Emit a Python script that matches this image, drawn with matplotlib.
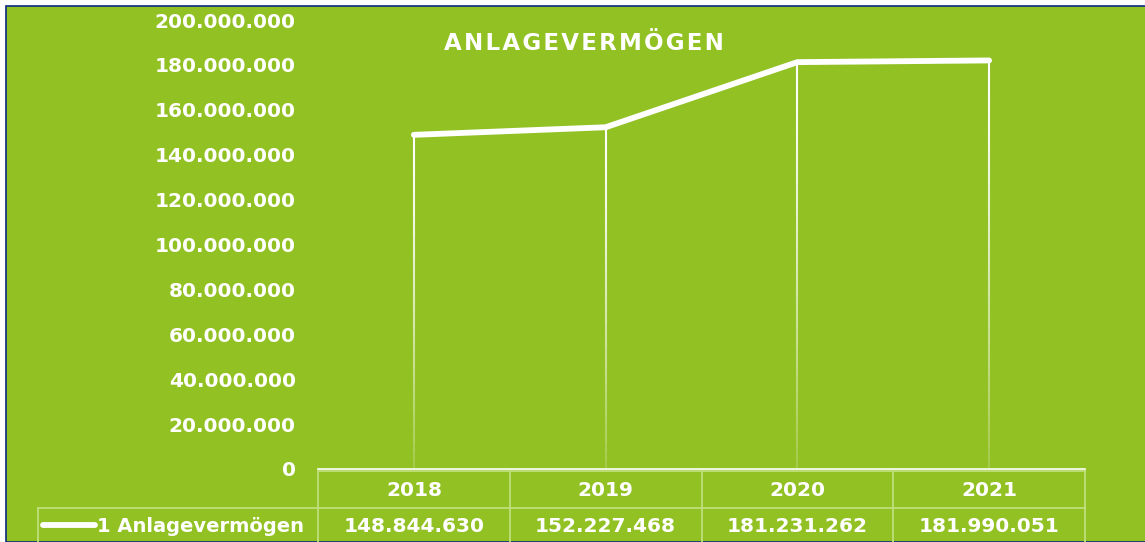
import numpy as np
import matplotlib
matplotlib.use('Agg')
import matplotlib.pyplot as plt
from matplotlib.patches import Rectangle
from matplotlib.collections import LineCollection

# Anlagevermögen per year
years = ['2018', '2019', '2020', '2021']
values = [148844630, 152227468, 181231262, 181990051]
series_name = '1 Anlagevermögen'
title = 'ANLAGEVERMÖGEN'
yticks = np.arange(0, 200000001, 20000000)

GREEN = '#92c124'
GRID = '#bfe07c'
W, H = 1145, 542


def fmt(v):
    return f'{v:,.0f}'.replace(',', '.')


def fx(px):
    return px / W


def fy(py):
    return 1 - py / H


plt.rcParams['font.family'] = ['DejaVu Sans']
fig = plt.figure(figsize=(W / 100, H / 100), dpi=100, facecolor='white')

# green panel with navy frame on the left/top edges
fig.add_artist(Rectangle((fx(6), 0), 1.0, fy(6), transform=fig.transFigure,
                         facecolor=GREEN, edgecolor='#0b2a7a', linewidth=1.2,
                         zorder=-5))

ax_l, ax_r, ax_t, ax_b = 318, 1085, 20, 469
ax = fig.add_axes([fx(ax_l), fy(ax_b), fx(ax_r - ax_l), fy(ax_t) - fy(ax_b)])
ax.set_facecolor('none')
ax.set_zorder(2)
x = np.arange(len(years))
ax.set_xlim(-0.5, len(years) - 0.5)
ax.set_ylim(0, 200000000)

# drop lines fading out towards the axis
segs, cols = [], []
n = 40
for xi, v in zip(x, values):
    ys = np.linspace(v, 0, n + 1)
    for k in range(n):
        segs.append([(xi, ys[k]), (xi, ys[k + 1])])
        a = 1 - 0.85 * (k / n) ** 1.3
        cols.append((1, 1, 1, a))
ax.add_collection(LineCollection(segs, colors=cols, linewidths=1.5, zorder=2))

ax.plot(x, values, color='white', linewidth=4.2, solid_capstyle='round',
        solid_joinstyle='round', zorder=3, clip_on=False)

for s in ['top', 'right', 'left']:
    ax.spines[s].set_visible(False)
ax.spines['bottom'].set_color('white')
ax.spines['bottom'].set_linewidth(1.2)
ax.set_xticks([])
ax.set_yticks(yticks)
ax.set_yticklabels([fmt(v) for v in yticks])
ax.tick_params(axis='y', length=0, pad=16, labelsize=14.5, labelcolor='white')
for lab in ax.get_yticklabels():
    lab.set_fontweight('bold')

fig.text(fx(584), fy(44), '\u200a'.join(list(title)),
         ha='center', va='center', color='white', fontsize=16.5,
         fontweight='bold')

# data table under the axis
col_edges = np.linspace(ax_l, ax_r, len(years) + 1)
row1_t, row1_b, row2_b = 471, 508, 545
lkw = dict(transform=fig.transFigure, color=GRID, linewidth=1.3)
fig.add_artist(plt.Line2D([fx(ax_l), fx(ax_r)], [fy(row1_t), fy(row1_t)], **lkw))
fig.add_artist(plt.Line2D([fx(38), fx(ax_r)], [fy(row1_b), fy(row1_b)], **lkw))
for e in col_edges:
    fig.add_artist(plt.Line2D([fx(e), fx(e)], [fy(row1_t), fy(row2_b)], **lkw))
fig.add_artist(plt.Line2D([fx(38), fx(38)], [fy(row1_b), fy(row2_b)], **lkw))

for i, (yr, v) in enumerate(zip(years, values)):
    cx = (col_edges[i] + col_edges[i + 1]) / 2
    fig.text(fx(cx), fy(490), yr, ha='center', va='center', color='white',
             fontsize=14.5, fontweight='bold')
    fig.text(fx(cx), fy(526), fmt(v), ha='center', va='center', color='white',
             fontsize=14.5, fontweight='bold')

fig.add_artist(plt.Line2D([fx(43), fx(95)], [fy(525), fy(525)],
                          transform=fig.transFigure, color='white', linewidth=4.2,
                          solid_capstyle='round'))
fig.text(fx(97), fy(526), series_name, ha='left', va='center', color='white',
         fontsize=14, fontweight='bold')

fig.savefig('out.png', dpi=100, facecolor='white')
